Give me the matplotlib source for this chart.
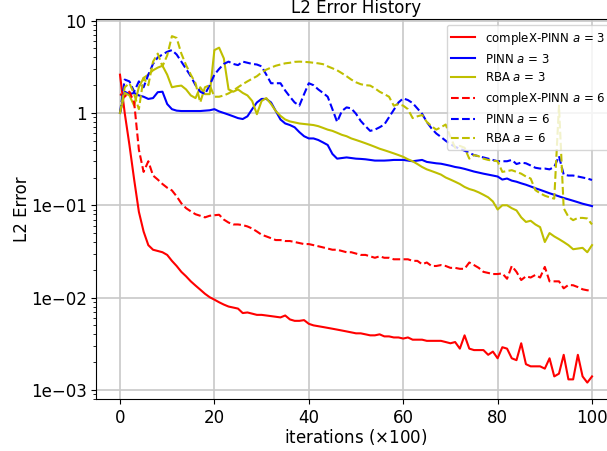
import numpy as np
import matplotlib
matplotlib.use('Agg')
import matplotlib.pyplot as plt

# L2 error, one value per 100 iterations (0..100).

iters = np.arange(101)

cx_a3 = [2.6, 1.0, 0.45, 0.19, 0.085, 0.052, 0.037, 0.033, 0.032, 0.031,
         0.029, 0.025, 0.022, 0.019, 0.017, 0.015, 0.0135, 0.0122, 0.011, 0.0101,
         0.0095, 0.0089, 0.0084, 0.0080, 0.0078, 0.0076, 0.0068, 0.0069, 0.0067, 0.0065,
         0.0065, 0.0064, 0.0063, 0.0062, 0.0061, 0.0064, 0.0058, 0.0056, 0.0056, 0.0057,
         0.0052, 0.0050, 0.0049, 0.0048, 0.0047, 0.0046, 0.0045, 0.0044, 0.0043, 0.0042,
         0.0041, 0.0041, 0.0040, 0.0039, 0.0039, 0.0040, 0.0038, 0.0038, 0.0037, 0.0037,
         0.0036, 0.0037, 0.0035, 0.0035, 0.0035, 0.0034, 0.0034, 0.0034, 0.0034, 0.0033,
         0.0032, 0.0033, 0.0028, 0.0039, 0.0028, 0.0027, 0.0027, 0.0027, 0.0024, 0.0026,
         0.0022, 0.0029, 0.0028, 0.0022, 0.0021, 0.0032, 0.0019, 0.0018, 0.0018, 0.0018,
         0.0017, 0.0022, 0.0014, 0.0015, 0.0024, 0.0013, 0.0013, 0.0024, 0.0014, 0.0012,
         0.0014]

pinn_a3 = [1.0, 1.7, 1.6, 1.65, 1.55, 1.5, 1.42, 1.45, 1.68, 1.7,
           1.25, 1.1, 1.06, 1.05, 1.05, 1.05, 1.05, 1.05, 1.06, 1.07,
           1.1, 1.04, 1.0, 0.96, 0.92, 0.88, 0.86, 0.92, 1.1, 1.3,
           1.42, 1.42, 1.3, 1.05, 0.85, 0.77, 0.74, 0.70, 0.62, 0.56,
           0.53, 0.53, 0.51, 0.48, 0.45, 0.36, 0.32, 0.325, 0.33, 0.325,
           0.32, 0.318, 0.315, 0.31, 0.305, 0.305, 0.305, 0.307, 0.31, 0.31,
           0.31, 0.305, 0.30, 0.305, 0.31, 0.295, 0.29, 0.285, 0.282, 0.275,
           0.268, 0.26, 0.255, 0.248, 0.24, 0.232, 0.226, 0.22, 0.215, 0.21,
           0.205, 0.19, 0.195, 0.185, 0.18, 0.173, 0.167, 0.16, 0.153, 0.147,
           0.141, 0.135, 0.13, 0.125, 0.12, 0.116, 0.112, 0.108, 0.104, 0.101,
           0.098]

rba_a3 = [1.0, 1.65, 1.55, 1.2, 1.9, 2.4, 2.6, 2.9, 3.1, 3.25,
          2.6, 1.9, 1.95, 1.98, 1.8, 1.55, 1.45, 1.9, 1.6, 1.6,
          4.8, 5.1, 3.9, 1.8, 1.7, 1.8, 1.65, 1.55, 1.35, 0.97,
          1.35, 1.45, 1.25, 1.05, 0.93, 0.85, 0.81, 0.79, 0.77, 0.76,
          0.75, 0.74, 0.72, 0.69, 0.66, 0.64, 0.61, 0.58, 0.56, 0.53,
          0.51, 0.49, 0.47, 0.45, 0.43, 0.41, 0.395, 0.38, 0.365, 0.35,
          0.335, 0.315, 0.30, 0.28, 0.26, 0.245, 0.235, 0.225, 0.215, 0.20,
          0.19, 0.18, 0.17, 0.158, 0.15, 0.145, 0.138, 0.13, 0.122, 0.11,
          0.09, 0.1, 0.1, 0.093, 0.088, 0.074, 0.066, 0.068, 0.062, 0.058,
          0.040, 0.05, 0.046, 0.043, 0.04, 0.037, 0.0334, 0.034, 0.0346, 0.031,
          0.037]

cx_a6 = [1.6, 1.5, 1.7, 1.3, 0.4, 0.23, 0.3, 0.21, 0.19, 0.17,
         0.155, 0.145, 0.125, 0.105, 0.093, 0.086, 0.08, 0.077, 0.074, 0.077,
         0.078, 0.079, 0.07, 0.065, 0.062, 0.062, 0.061, 0.059, 0.056, 0.052,
         0.048, 0.046, 0.044, 0.042, 0.042, 0.041, 0.041, 0.040, 0.039, 0.038,
         0.038, 0.037, 0.036, 0.035, 0.034, 0.033, 0.033, 0.032, 0.031, 0.031,
         0.030, 0.029, 0.029, 0.028, 0.027, 0.028, 0.027, 0.027, 0.026, 0.026,
         0.026, 0.026, 0.025, 0.025, 0.023, 0.024, 0.022, 0.022, 0.0225, 0.022,
         0.021, 0.021, 0.0205, 0.0205, 0.024, 0.0225, 0.021, 0.019, 0.0185, 0.018,
         0.018, 0.0183, 0.016, 0.022, 0.019, 0.0155, 0.017, 0.0165, 0.0176, 0.0165,
         0.0215, 0.015, 0.015, 0.015, 0.0126, 0.0137, 0.0136, 0.013, 0.0123, 0.012,
         0.012]

pinn_a6 = [1.0, 2.3, 2.2, 1.7, 2.2, 1.9, 2.6, 3.4, 4.0, 4.3,
           4.6, 4.8, 4.3, 3.6, 3.0, 2.5, 2.0, 1.7, 1.6, 2.0,
           2.6, 3.0, 3.4, 3.6, 3.4, 3.3, 3.6, 3.5, 3.4, 3.35,
           3.2, 2.6, 2.1, 2.1, 2.1, 1.75, 1.5, 1.3, 1.2, 1.6,
           2.1, 2.0, 1.8, 1.65, 1.5, 1.1, 0.8, 1.05, 1.15, 1.12,
           0.98, 0.82, 0.72, 0.64, 0.66, 0.70, 0.75, 0.9, 1.08, 1.3,
           1.44, 1.38, 1.28, 1.12, 0.98, 0.8, 0.68, 0.6, 0.55, 0.5,
           0.46, 0.43, 0.41, 0.39, 0.37, 0.35, 0.34, 0.33, 0.32, 0.31,
           0.30, 0.30, 0.30, 0.31, 0.28, 0.29, 0.285, 0.27, 0.255, 0.25,
           0.25, 0.245, 0.26, 0.34, 0.215, 0.21, 0.21, 0.205, 0.2, 0.195,
           0.188]

rba_a6 = [1.0, 1.9, 2.1, 1.6, 1.1, 2.4, 2.0, 3.6, 4.4, 3.2,
          4.2, 6.8, 6.5, 4.4, 3.3, 2.6, 2.1, 1.3, 1.9, 2.0,
          1.5, 1.5, 1.55, 1.63, 1.75, 1.9, 2.05, 2.2, 2.35, 2.5,
          2.75, 2.95, 3.1, 3.25, 3.35, 3.45, 3.5, 3.58, 3.6, 3.58,
          3.55, 3.5, 3.45, 3.38, 3.2, 3.05, 2.9, 2.7, 2.5, 2.3,
          2.15, 2.05, 2.0, 1.98, 1.85, 1.7, 1.6, 1.5, 1.2, 1.25,
          1.2, 1.1, 0.88, 0.92, 0.95, 0.8, 0.72, 0.66, 0.7, 0.75,
          0.55, 0.42, 0.44, 0.42, 0.32, 0.35, 0.34, 0.32, 0.31, 0.305,
          0.30, 0.23, 0.235, 0.24, 0.23, 0.22, 0.205, 0.195, 0.146, 0.135,
          0.127, 0.122, 0.118, 1.2, 0.093, 0.075, 0.069, 0.073, 0.073, 0.072,
          0.062]

ytick_vals = [1e1, 1e0, 1e-1, 1e-2, 1e-3]
ytick_labels = ['10', '1', '1e\u221201', '1e\u221202', '1e\u221203']

# Plot.

fig = plt.figure(figsize=(6.07, 4.51), dpi=100)
# the reference is cropped on the right, so the axes run past the figure edge
ax = fig.add_axes([0.1588, 0.1153, 0.8554, 0.8426])

ax.plot(iters, cx_a3, 'r-', lw=1.5, label='compleX-PINN $a$ = 3')
ax.plot(iters, pinn_a3, 'b-', lw=1.5, label='PINN $a$ = 3')
ax.plot(iters, rba_a3, 'y-', lw=1.5, label='RBA $a$ = 3')
ax.plot(iters, cx_a6, 'r--', lw=1.5, label='compleX-PINN $a$ = 6')
ax.plot(iters, pinn_a6, 'b--', lw=1.5, label='PINN $a$ = 6')
ax.plot(iters, rba_a6, 'y--', lw=1.5, label='RBA $a$ = 6')

ax.set_yscale('log')
ax.set_xlim(-5, 105)
ax.set_ylim(7.97e-4, 10.43)
ax.set_xticks([0, 20, 40, 60, 80, 100])
ax.set_yticks(ytick_vals)
ax.set_yticklabels(ytick_labels)
ax.tick_params(labelsize=12)
ax.grid(True, which='major', color='#c8c8c8', lw=1.2)

ax.set_title('L2 Error History', fontsize=12, pad=4.5)
ax.set_xlabel('iterations ($\\times$100)', fontsize=12, labelpad=0)
ax.set_ylabel('L2 Error', fontsize=12, labelpad=0)
ax.legend(loc='upper right', fontsize=8.5)

fig.savefig('out.png', dpi=100)
